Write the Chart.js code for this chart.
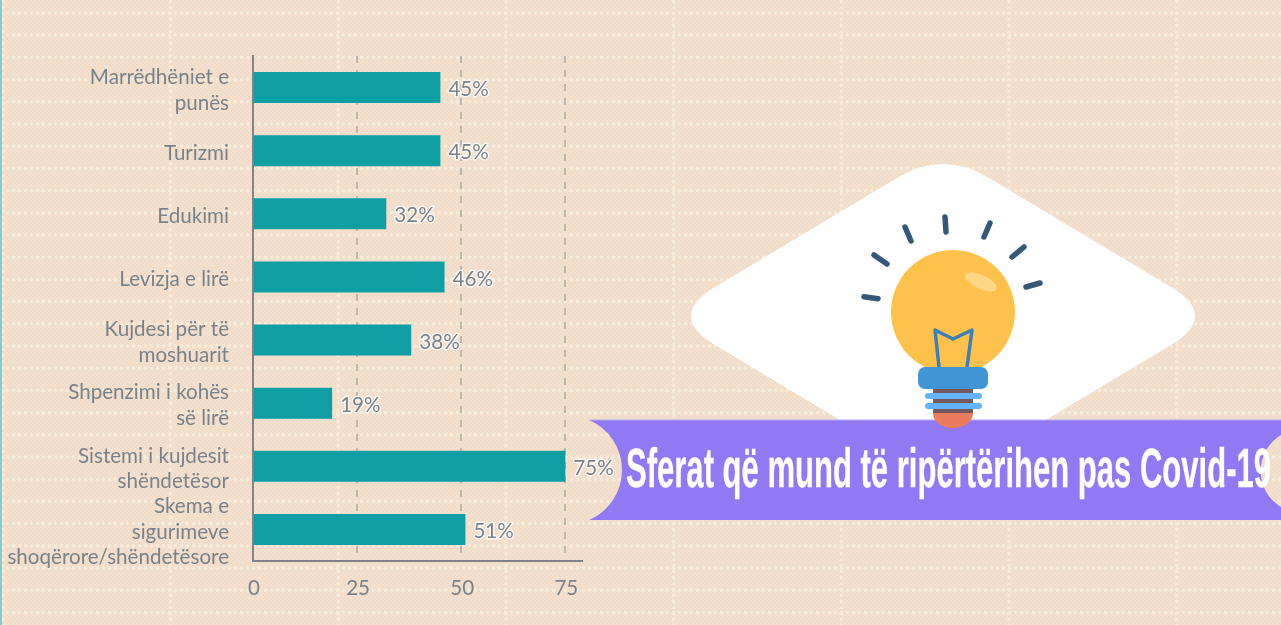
<!DOCTYPE html>
<html>
<head>
<meta charset="utf-8">
<title>Sferat që mund të ripërtërihen pas Covid-19</title>
<script src="https://cdn.jsdelivr.net/npm/chart.js@4"></script>
<style>
  html, body { margin: 0; padding: 0; width: 1281px; height: 625px; overflow: hidden; background: #f2e0cc; }
  svg, canvas { position: absolute; left: 0; top: 0; }
  #edge { position: absolute; left: 0; top: 0; width: 2px; height: 625px; background: #7fd0cc; }
</style>
</head>
<body>
<!-- paper texture -->
<svg width="1281" height="625">
  <defs>
    <pattern id="check" width="4" height="4" patternUnits="userSpaceOnUse">
      <rect width="2" height="2" fill="#f0dcc8"/>
      <rect x="2" y="2" width="2" height="2" fill="#f0dcc8"/>
    </pattern>
    <pattern id="rows" x="0" y="11.5" width="6" height="22.2" patternUnits="userSpaceOnUse">
      <rect width="3" height="3" fill="#f8ebda"/>
    </pattern>
    <pattern id="cols" x="169" y="0" width="167.7" height="6" patternUnits="userSpaceOnUse">
      <rect width="3" height="3" fill="#f8ebda"/>
    </pattern>
  </defs>
  <rect width="1281" height="625" fill="#f3e1cd"/>
  <rect width="1281" height="625" fill="url(#check)"/>
  <rect width="1281" height="625" fill="url(#rows)"/>
  <rect width="1281" height="625" fill="url(#cols)"/>
</svg>
<div id="edge"></div>
<canvas id="chart" width="1281" height="625"></canvas>
<!-- decoration: diamond, ribbon, bulb, title -->
<svg width="1281" height="625">
  <path fill="#fff" d="M715,287 L897,178 Q943,150 989,178 L1171,287 Q1219,316 1171,345 L989,454 Q943,482 897,454 L715,345 Q667,316 715,287 Z"/>
  <path fill="#9079f2" d="M589,420 H1281 V435 A42,42 0 0 0 1281,507 V520 H589 A54.4,54.4 0 0 0 589,420 Z"/>
  <rect x="589" y="419.5" width="692" height="1" fill="#b8a9f6"/>
  <rect x="933" y="389" width="40" height="25" fill="#75595e"/>
  <path fill="#e97c5d" d="M933,413 H973 C973,422 964,428 953,428 C942,428 933,422 933,413 Z"/>
  <path fill="#fec14c" d="M924.4,367 A62,62 0 1 1 981.6,367 Z"/>
  <rect x="918" y="367" width="70" height="22" rx="7" fill="#4396d6"/>
  <rect x="925" y="393" width="57" height="6" rx="3" fill="#64b4fa"/>
  <rect x="925" y="403" width="57" height="6" rx="3" fill="#64b4fa"/>
  <ellipse cx="981" cy="282" rx="17" ry="7" transform="rotate(25 981 282)" fill="#ffd786"/>
  <path fill="none" stroke="#3a82b5" stroke-width="3.5" stroke-linejoin="round" d="M939,367 L935,330 L953,339 L972,330 L967,367"/>
  <g stroke="#34587a" stroke-width="5.5" stroke-linecap="round">
    <line x1="864" y1="296.7" x2="878" y2="298.7"/>
    <line x1="874" y1="255" x2="887" y2="264"/>
    <line x1="905" y1="227" x2="911" y2="241"/>
    <line x1="945" y1="217" x2="946" y2="232"/>
    <line x1="990" y1="223" x2="984" y2="237"/>
    <line x1="1024" y1="247" x2="1012" y2="257"/>
    <line x1="1040" y1="283" x2="1026" y2="287"/>
  </g>
  <text x="626" y="487" font-family="'Liberation Sans Narrow','Liberation Sans',sans-serif" font-weight="700" font-size="56"
        fill="#fff" stroke="#fff" stroke-width="0.3" textLength="645" lengthAdjust="spacingAndGlyphs">Sferat që mund të ripërtërihen pas Covid-19</text>
</svg>
<script>
const FONT = "Lato, 'Open Sans', sans-serif";
const INK = "#7a8289";
const GRID = "#bcb7ae";
const AXIS = "#7f8286";
const BAR = "#0e9ea4";

const categories = [
  ["Marrëdhëniet e", "punës"],
  "Turizmi",
  "Edukimi",
  "Levizja e lirë",
  ["Kujdesi për të", "moshuarit"],
  ["Shpenzimi i kohës", "së lirë"],
  ["Sistemi i kujdesit", "shëndetësor"],
  ["Skema e", "sigurimeve", "shoqërore/shëndetësore"],
];
const shares = [45, 45, 32, 46, 38, 19, 75, 51];
const xTicks = [0, 25, 50, 75];

// value labels at the bar ends, with the pale halo of the original
const barLabels = {
  id: "barLabels",
  afterDatasetsDraw(chart) {
    const { ctx } = chart;
    ctx.save();
    ctx.font = "20.6px " + FONT;
    ctx.textBaseline = "middle";
    ctx.lineJoin = "round";
    chart.getDatasetMeta(0).data.forEach((bar, i) => {
      const text = shares[i] + "%";
      ctx.lineWidth = 3;
      ctx.strokeStyle = "rgba(255,255,255,0.75)";
      ctx.strokeText(text, bar.x + 8, bar.y + 2);
      ctx.fillStyle = INK;
      ctx.fillText(text, bar.x + 8, bar.y + 2);
    });
    ctx.restore();
  },
};

new Chart(document.getElementById("chart"), {
  type: "bar",
  data: {
    labels: categories,
    datasets: [{ data: shares, backgroundColor: BAR, barPercentage: 0.49, categoryPercentage: 1 }],
  },
  plugins: [barLabels],
  options: {
    indexAxis: "y",
    responsive: false,
    animation: false,
    layout: { padding: { top: 56, right: 699, left: 0, bottom: 0 } },
    plugins: { legend: { display: false }, tooltip: { enabled: false } },
    scales: {
      x: {
        min: 0,
        max: 79,
        afterBuildTicks: (axis) => { axis.ticks = xTicks.map((value) => ({ value })); },
        afterFit: (axis) => { axis.height = 64; },
        grid: {
          color: (c) => (c.tick && c.tick.value === 0 ? "transparent" : GRID),
          lineWidth: 2,
          drawTicks: false,
        },
        border: { color: AXIS, width: 2, dash: [7, 7] },
        ticks: { color: INK, font: { family: FONT, size: 20.6 }, padding: 15, labelOffset: 1, maxRotation: 0, autoSkip: false },
      },
      y: {
        // the tall three-line label must not push the plot area down
        afterFit: (axis) => { axis.width = 253; axis.paddingTop = 0; axis.paddingBottom = 0; },
        grid: { display: false, drawTicks: false },
        border: { color: AXIS, width: 2 },
        ticks: {
          color: INK,
          font: { family: FONT, size: 20.6, lineHeight: 1.25 },
          padding: 24,
          labelOffset: 2.5,
          autoSkip: false,
        },
      },
    },
  },
});
</script>
</body>
</html>
